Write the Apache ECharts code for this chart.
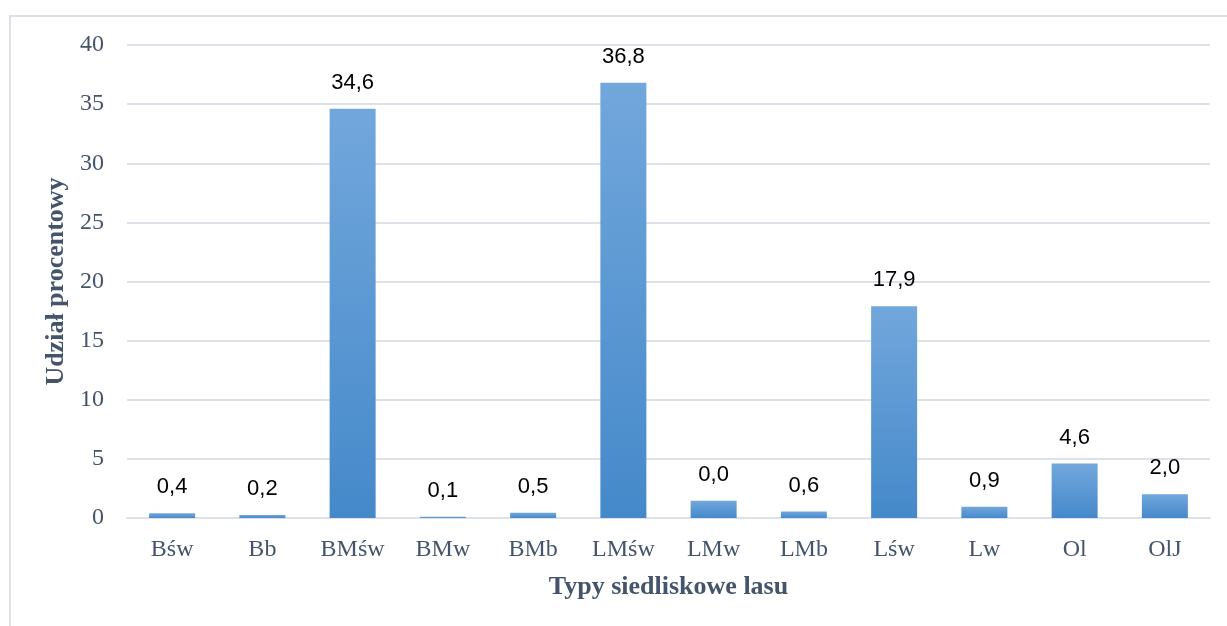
<!DOCTYPE html>
<html>
<head>
<meta charset="utf-8">
<script src="https://cdn.jsdelivr.net/npm/echarts@6/dist/echarts.min.js"></script>
<style>
html,body{margin:0;padding:0;background:#fff;}
#chart{width:1227px;height:626px;}
</style>
</head>
<body>
<div id="chart"></div>
<script>
var categories = ['Bśw','Bb','BMśw','BMw','BMb','LMśw','LMw','LMb','Lśw','Lw','Ol','OlJ'];
var values = [0.4, 0.25, 34.6, 0.1, 0.45, 36.8, 1.45, 0.55, 17.9, 0.95, 4.6, 2.0];
var valueLabels = ['0,4','0,2','34,6','0,1','0,5','36,8','0,0','0,6','17,9','0,9','4,6','2,0'];
var yTicks = {min: 0, max: 40, interval: 5};
var xTitle = 'Typy siedliskowe lasu';
var yTitle = 'Udział procentowy';

var chart = echarts.init(document.getElementById('chart'), null, {renderer: 'canvas'});
var serif = '"Liberation Serif", "DejaVu Serif", serif';
var axisColor = '#44546a';
chart.setOption({
  animation: false,
  backgroundColor: '#ffffff',
  graphic: [{
    type: 'rect', silent: true, z: -1,
    shape: {x: 10, y: 16, width: 1240, height: 640},
    style: {fill: 'none', stroke: '#dde2ea', lineWidth: 2}
  }],
  grid: {left: 127, right: 17, top: 45, bottom: 108},
  xAxis: {
    type: 'category',
    data: categories,
    name: xTitle,
    nameLocation: 'middle',
    nameGap: 56,
    nameTextStyle: {fontFamily: serif, fontWeight: 'bold', fontSize: 26, color: axisColor},
    axisLine: {lineStyle: {color: '#dde2ea', width: 2}},
    axisTick: {show: false},
    axisLabel: {fontFamily: serif, fontSize: 24, color: axisColor, margin: 20}
  },
  yAxis: {
    type: 'value',
    min: yTicks.min, max: yTicks.max, interval: yTicks.interval,
    name: yTitle,
    nameLocation: 'middle',
    nameGap: 56,
    nameTextStyle: {fontFamily: serif, fontWeight: 'bold', fontSize: 26, color: axisColor},
    axisLine: {show: false},
    axisTick: {show: false},
    axisLabel: {fontFamily: serif, fontSize: 24, color: axisColor, margin: 23},
    splitLine: {lineStyle: {color: '#dde2ea', width: 2}}
  },
  series: [{
    type: 'bar',
    data: values,
    barWidth: 46,
    itemStyle: {
      color: new echarts.graphic.LinearGradient(0, 0, 0, 1, [
        {offset: 0, color: '#72a7dc'},
        {offset: 1, color: '#4589ca'}
      ])
    },
    label: {
      show: true,
      position: 'top',
      distance: 15,
      fontFamily: '"Liberation Sans", "Noto Sans", sans-serif',
      fontSize: 22,
      color: '#000000',
      formatter: function (p) { return valueLabels[p.dataIndex]; }
    }
  }]
});
</script>
</body>
</html>
